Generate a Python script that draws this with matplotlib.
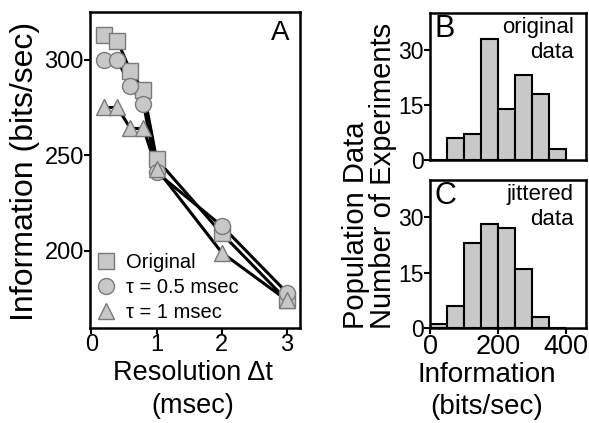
import matplotlib
matplotlib.use("Agg")
import matplotlib.pyplot as plt

plt.rcParams['font.family'] = ['Liberation Sans', 'DejaVu Sans']

# panel A: information vs resolution
resolution = [0.2, 0.4, 0.6, 0.8, 1.0, 2.0, 3.0]
info_original = [313, 310, 294, 284, 248, 209, 174]
info_tau05 = [300, 300, 286, 277, 241, 213, 178]
info_tau1 = [275, 275, 264, 264, 243, 199, 174]
series_labels = ["Original", "\u03c4 = 0.5 msec", "\u03c4 = 1 msec"]

# panels B and C: histograms (bin left edges, width 50)
bin_left = [0, 50, 100, 150, 200, 250, 300, 350]
counts_original = [0, 6, 7, 33, 14, 23, 18, 3]
counts_jittered = [1, 6, 23, 28, 27, 16, 3, 0]

W, H = 589, 423
fig = plt.figure(figsize=(W / 100, H / 100), dpi=100)

def box(l, t, r, b):
    return [l / W, 1 - b / H, (r - l) / W, (b - t) / H]

face = "#c8c8c8"
edge = "#7a7a7a"

axA = fig.add_axes(box(90, 12, 300, 328))
markers = ["s", "o", "^"]
sizes = [11, 11.5, 12]
for ys, m, ms, lab in zip([info_original, info_tau05, info_tau1], markers, sizes, series_labels):
    axA.plot(resolution, ys, color="black", lw=2.2, zorder=2)
    axA.plot(resolution, ys, linestyle="none", marker=m, markersize=ms,
             markerfacecolor=face, markeredgecolor=edge, markeredgewidth=1,
             zorder=3, label=lab)
axA.set_xlim(-0.02, 3.2)
axA.set_ylim(159.5, 325)
axA.set_xticks([0, 1, 2, 3])
axA.set_yticks([200, 250, 300])
axA.text(0.95, 0.975, "A", transform=axA.transAxes, ha="right", va="top", fontsize=20)
leg = axA.legend(loc="lower left", frameon=False, fontsize=14.5, handletextpad=0.5,
                 handlelength=1.0, borderaxespad=0.1, labelspacing=0.3,
                 borderpad=0.2)

hist_kw = dict(width=50, align="edge", color=face, edgecolor="black", linewidth=1.5)

axB = fig.add_axes(box(430, 13, 586, 160))
axB.bar(bin_left, counts_original, **hist_kw)
axB.set_xlim(0, 460)
axB.set_ylim(0, 40)
axB.set_yticks([0, 15, 30])
axB.set_xticks([])
axB.text(0.03, 0.99, "B", transform=axB.transAxes, ha="left", va="top", fontsize=22)
axB.text(0.92, 0.97, "original\ndata", transform=axB.transAxes, ha="right", va="top",
         fontsize=16, linespacing=1.2)

axC = fig.add_axes(box(430, 180, 586, 328))
axC.bar(bin_left, counts_jittered, **hist_kw)
axC.set_xlim(0, 460)
axC.set_ylim(0, 40)
axC.set_yticks([0, 15, 30])
axC.set_xticks([0, 200, 400])
axC.text(0.03, 0.99, "C", transform=axC.transAxes, ha="left", va="top", fontsize=22)
axC.text(0.92, 0.97, "jittered\ndata", transform=axC.transAxes, ha="right", va="top",
         fontsize=16, linespacing=1.2)

for ax in (axA, axB, axC):
    for s in ax.spines.values():
        s.set_linewidth(1.8)
    ax.tick_params(direction="out", length=4, width=1.5, labelsize=16.5, pad=0.5)
axA.tick_params(labelsize=17)
axC.tick_params(axis="x", labelsize=19.5)

def ftext(x, y, s, **kw):
    fig.text(x / W, 1 - y / H, s, **kw)

ftext(25, 171, "Information (bits/sec)", rotation=90, ha="center", va="center", fontsize=23)
ftext(193, 380, "Resolution \u0394t", ha="center", va="baseline", fontsize=19.5)
ftext(193, 413, "(msec)", ha="center", va="baseline", fontsize=19.5)
ftext(356, 329, "Population Data", rotation=90, ha="center", va="bottom", fontsize=21)
ftext(383, 329, "Number of Experiments", rotation=90, ha="center", va="bottom", fontsize=21)
ftext(487, 382, "Information", ha="center", va="baseline", fontsize=20)
ftext(487, 414, "(bits/sec)", ha="center", va="baseline", fontsize=20)

fig.savefig("out.png", dpi=100)
